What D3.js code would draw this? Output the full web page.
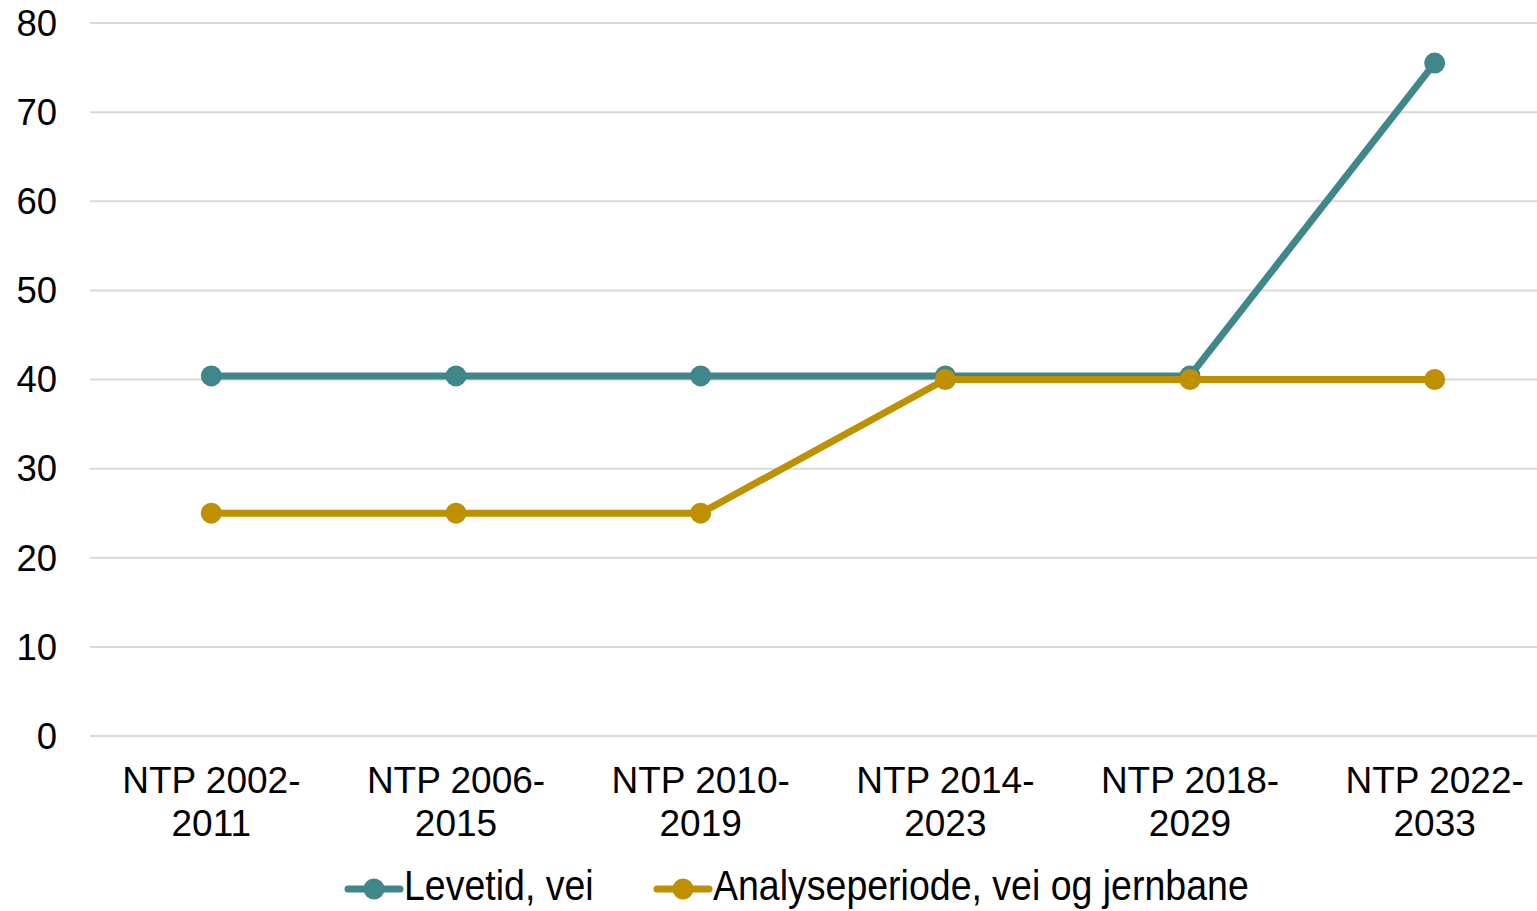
<!DOCTYPE html>
<html>
<head>
<meta charset="utf-8">
<script src="https://cdn.jsdelivr.net/npm/d3@7"></script>
<style>
  body { margin: 0; background: #fff; }
  text { font-family: "Liberation Sans", Arial, sans-serif; fill: #000; }
</style>
</head>
<body>
<div class="chart"></div>
<script>

// Chart data
var categories = [
    ["NTP 2002-", "2011"],
    ["NTP 2006-", "2015"],
    ["NTP 2010-", "2019"],
    ["NTP 2014-", "2023"],
    ["NTP 2018-", "2029"],
    ["NTP 2022-", "2033"]
];
var levetid = [40.4, 40.4, 40.4, 40.4, 40.4, 75.5];
var analyse = [25, 25, 25, 40, 40, 40];
var yTicks = [0, 10, 20, 30, 40, 50, 60, 70, 80];

var seriesNames = ["Levetid, vei", "Analyseperiode, vei og jernbane"];
var seriesColors = ["#40878b", "#bf9000"];

var width = 1537, height = 911;

var svg = d3.select(".chart")
    .append("svg")
        .attr("width", width)
        .attr("height", height);

var x = d3.scaleBand()
    .domain(d3.range(categories.length))
    .range([89, 1557]);

var y = d3.scaleLinear()
    .domain([0, 80])
    .range([736, 23]);

// Gridlines
svg.append("g")
    .selectAll("line")
    .data(yTicks)
    .enter()
    .append("line")
    .attr("x1", 90)
    .attr("x2", width)
    .attr("y1", function(d) { return y(d); })
    .attr("y2", function(d) { return y(d); })
    .style("stroke", "#d9d9d9")
    .style("stroke-width", 2);

// Y labels
svg.append("g")
    .selectAll("text")
    .data(yTicks)
    .enter()
    .append("text")
    .attr("x", 57)
    .attr("y", function(d) { return y(d); })
    .attr("dy", "0.35em")
    .attr("text-anchor", "end")
    .style("font-size", "36.5px")
    .text(function(d) { return d; });

// X labels, two lines each
var xLabels = svg.append("g")
    .selectAll("text")
    .data(categories)
    .enter()
    .append("text")
    .attr("text-anchor", "middle")
    .style("font-size", "37px");

xLabels.append("tspan")
    .attr("x", function(d, i) { return x(i) + x.bandwidth() / 2; })
    .attr("y", 793)
    .text(function(d) { return d[0]; });

xLabels.append("tspan")
    .attr("x", function(d, i) { return x(i) + x.bandwidth() / 2; })
    .attr("y", 836)
    .text(function(d) { return d[1]; });

var line = d3.line()
    .x(function(d, i) { return x(i) + x.bandwidth() / 2; })
    .y(function(d) { return y(d); });

// Draw both series (Levetid first, Analyse on top)
[levetid, analyse].forEach(function(values, s) {
    svg.append("path")
        .datum(values)
        .attr("d", line)
        .style("fill", "none")
        .style("stroke", seriesColors[s])
        .style("stroke-width", 7)
        .style("stroke-linejoin", "round");

    svg.append("g")
        .selectAll("circle")
        .data(values)
        .enter()
        .append("circle")
        .attr("cx", function(d, i) { return x(i) + x.bandwidth() / 2; })
        .attr("cy", function(d) { return y(d); })
        .attr("r", 10.5)
        .style("fill", seriesColors[s]);
});

// Legend
var legendX = [345, 654];
var legend = svg.append("g")
    .selectAll("g")
    .data(seriesNames)
    .enter()
    .append("g")
    .attr("transform", function(d, i) { return "translate(" + legendX[i] + ",889)"; });

legend.append("line")
    .attr("x1", 3)
    .attr("x2", 55)
    .style("stroke", function(d, i) { return seriesColors[i]; })
    .style("stroke-width", 7)
    .style("stroke-linecap", "round");

legend.append("circle")
    .attr("cx", 29)
    .attr("r", 10.5)
    .style("fill", function(d, i) { return seriesColors[i]; });

legend.append("text")
    .attr("transform", "translate(59,11) scale(1,1.15)")
    .style("font-size", "37.5px")
    .text(function(d) { return d; });

</script>
</body>
</html>
